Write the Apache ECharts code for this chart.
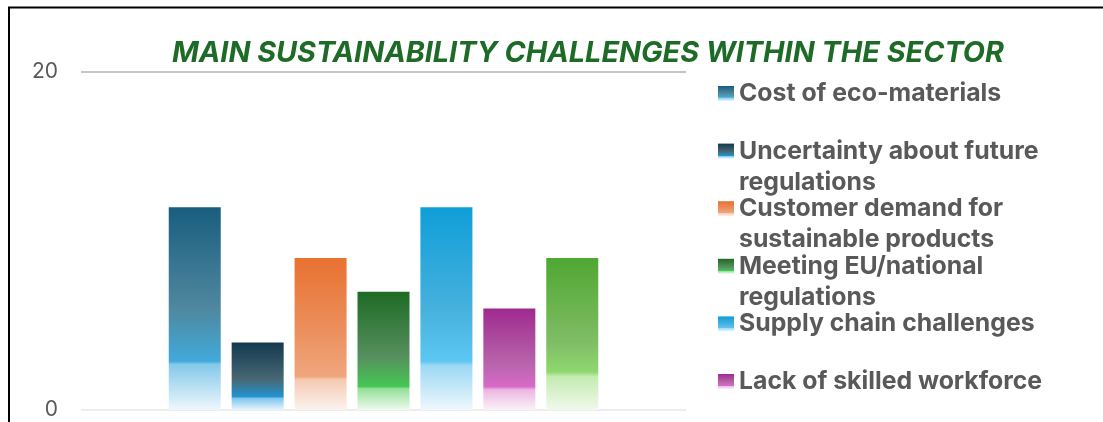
<!DOCTYPE html>
<html>
<head>
<meta charset="utf-8">
<script src="https://cdn.jsdelivr.net/npm/echarts@6/dist/echarts.min.js"></script>
<style>
  html, body { margin: 0; padding: 0; background: #fff; }
  #chart { width: 1103px; height: 422px; }
</style>
</head>
<body>
<div id="chart"></div>
<script>
// Survey results: one bar per challenge
const categories = [''];
const challengeNames = [
  'Cost of eco-materials',
  'Uncertainty about future regulations',
  'Customer demand for sustainable products',
  'Meeting EU/national regulations',
  'Supply chain challenges',
  'Lack of skilled workforce',
  'Other'
];
const challengeValues = [12, 4, 9, 7, 12, 6, 9];
const yTicks = [0, 20];

// Vertical gradient stops for each bar (top -> bottom)
const gradients = [
  [[0, '#195d7f'], [0.5, '#4f889f'], [0.76, '#41aadb'], [0.775, '#84c8e9'], [1, '#eff7fc']],
  [[0, '#12394f'], [0.55, '#486874'], [0.8, '#2393d2'], [0.83, '#80c6ec'], [1, '#e9f5fc']],
  [[0, '#e87131'], [0.5, '#ec915f'], [0.78, '#f0a67e'], [0.8, '#f5c9b2'], [1, '#fbf3ef']],
  [[0, '#1d6b25'], [0.55, '#568f5e'], [0.8, '#45c753'], [0.82, '#93e098'], [1, '#effaef']],
  [[0, '#0f9ed8'], [0.5, '#46b1dd'], [0.76, '#5dc6f2'], [0.78, '#9cd8f4'], [1, '#eef8fd']],
  [[0, '#9f2a8f'], [0.55, '#b865ac'], [0.77, '#d86ac8'], [0.8, '#ecb6e2'], [1, '#faf2f8']],
  [[0, '#4fa731'], [0.55, '#7fbd65'], [0.75, '#8ed870'], [0.78, '#c4ebb0'], [1, '#f0f9ec']]
];

function grad(stops) {
  return new echarts.graphic.LinearGradient(0, 0, 0, 1,
    stops.map(s => ({ offset: s[0], color: s[1] })));
}

// Legend text wrapping: first line sits beside the icon, the rest below it
const FONT = 'Inter';
const LEGEND_SIZE = 24.8;
const LEGEND_LINE = 31;
const LEGEND_WIDTH = 330;
const measureCtx = document.createElement('canvas').getContext('2d');
measureCtx.font = 'bold ' + LEGEND_SIZE + 'px ' + FONT;
function wrap(text) {
  const words = text.split(' ');
  const lines = [];
  let cur = '';
  words.forEach(w => {
    const t = cur ? cur + ' ' + w : w;
    if (cur && measureCtx.measureText(t).width > LEGEND_WIDTH) {
      lines.push(cur);
      cur = w;
    } else {
      cur = t;
    }
  });
  if (cur) lines.push(cur);
  return lines;
}
function legendText(name) {
  const lines = wrap(name);
  // leading blank lines keep the first line centred on the icon
  return new Array(lines.length - 1).fill('').concat(lines).join('\n');
}

const legendFirstLine = 93.5;
const legendStep = 57.6;

const legends = challengeNames.map((name, i) => {
  const n = wrap(name).length;
  const center = legendFirstLine + legendStep * i;
  const blockH = (2 * n - 1) * LEGEND_LINE;
  return {
    data: [name],
    left: 718,
    top: center - blockH / 2,
    padding: 0,
    orient: 'vertical',
    icon: 'rect',
    itemWidth: 16,
    itemHeight: 15,
    selectedMode: false,
    formatter: legendText,
    textStyle: {
      fontFamily: FONT,
      fontWeight: 'bold',
      fontSize: LEGEND_SIZE,
      color: '#595959',
      lineHeight: LEGEND_LINE
    }
  };
});

const chart = echarts.init(document.getElementById('chart'), null, { renderer: 'canvas' });

chart.setOption({
  animation: false,
  backgroundColor: '#ffffff',
  title: {
    text: 'MAIN SUSTAINABILITY CHALLENGES WITHIN THE SECTOR',
    left: 172,
    top: 37,
    padding: 0,
    textStyle: {
      fontFamily: FONT,
      fontStyle: 'italic',
      fontWeight: 'bold',
      fontSize: 28.8,
      lineHeight: 32,
      color: '#1d6b27'
    }
  },
  legend: legends,
  grid: { left: 81, right: 417, top: 72, bottom: 12, containLabel: false },
  xAxis: {
    type: 'category',
    data: categories,
    axisLine: { show: false },
    axisTick: { show: false },
    axisLabel: { show: false }
  },
  yAxis: {
    type: 'value',
    min: yTicks[0],
    max: yTicks[yTicks.length - 1],
    interval: yTicks[1] - yTicks[0],
    axisLine: { show: false },
    axisTick: { show: false },
    axisLabel: {
      fontFamily: FONT,
      fontSize: 21,
      color: '#595959',
      margin: 23
    },
    splitLine: { lineStyle: { color: ['#ededed', '#c4c4c4'], width: 2 } }
  },
  series: challengeNames.map((name, i) => ({
    name: name,
    type: 'bar',
    data: [challengeValues[i]],
    barWidth: 52,
    barGap: '21%',
    itemStyle: { color: grad(gradients[i]) }
  })),
  graphic: [{
    type: 'rect',
    silent: true,
    shape: { x: 9, y: 7.5, width: 2000, height: 1000 },
    style: { fill: 'none', stroke: '#000', lineWidth: 2 }
  }]
});
</script>
</body>
</html>
